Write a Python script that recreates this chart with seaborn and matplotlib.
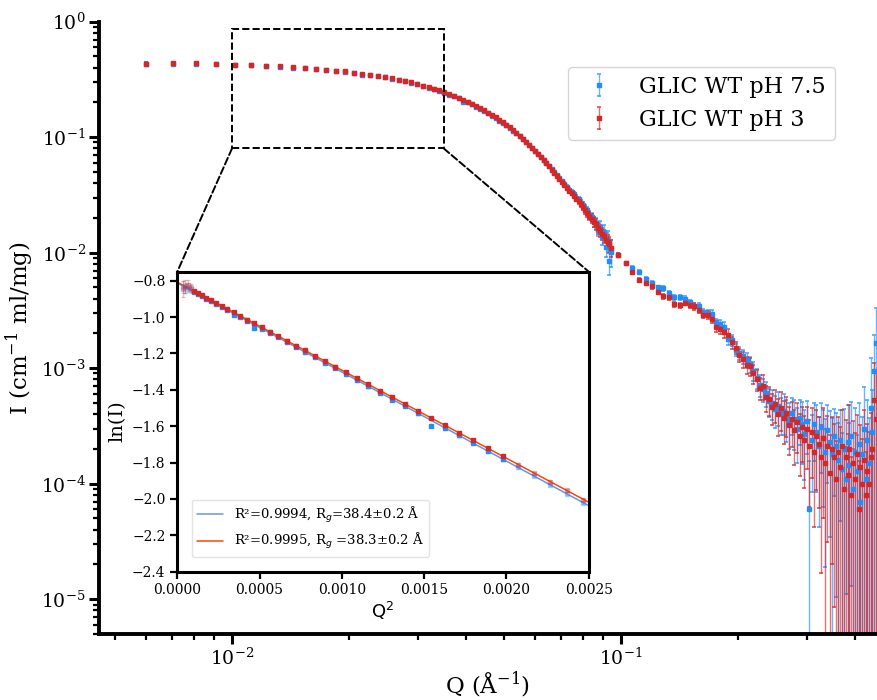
import matplotlib
matplotlib.use("Agg")
import matplotlib.pyplot as plt
import numpy as np
import pandas as pd
import seaborn as sns
from matplotlib.patches import ConnectionPatch, Rectangle

sns.set_style("ticks")
plt.rcParams["font.family"] = ["DejaVu Serif"]
plt.rcParams["mathtext.fontset"] = "dejavusans"
plt.rcParams.update({"axes.edgecolor": "black", "xtick.color": "black", "ytick.color": "black",
                     "text.color": "black", "axes.labelcolor": "black"})

# --- données --------------------------------------------------------------
LABELS = ["GLIC WT pH 7.5", "GLIC WT pH 3"]
COLORS = ["#1f8fff", "#d62728"]
FIT_COLORS = ["cornflowerblue", "orangered"]
FIT_LABELS = ["R²=0.9994, R$_g$=38.4±0.2 Å", "R²=0.9995, R$_g$ =38.3±0.2 Å"]
FIT_INTERCEPT = [-0.812, -0.808]
FIT_SLOPE = [-490.0, -484.0]
FIT_QMIN, FIT_QMAX = 0.0100, 0.0450
ZOOM_BOX = (0.0100, 0.0350, 0.080, 0.860)  # Q min, Q max, I min, I max

# bas Q (détecteur 1)
q_low = [0.00600, 0.00704, 0.00808, 0.00912, 0.01016, 0.01120, 0.01224, 0.01328, 0.01432, 0.01536,
         0.01640, 0.01744, 0.01848, 0.01952, 0.02056, 0.02160, 0.02264, 0.02368, 0.02472, 0.02576,
         0.02680, 0.02784, 0.02888, 0.02992, 0.03096, 0.03200, 0.03304, 0.03408, 0.03512, 0.03616,
         0.03720, 0.03824, 0.03928, 0.04032, 0.04136, 0.04240, 0.04344, 0.04448, 0.04552, 0.04656,
         0.04760, 0.04864, 0.04968, 0.05072, 0.05176, 0.05280, 0.05384, 0.05488, 0.05592, 0.05696,
         0.05800, 0.05904, 0.06008, 0.06112, 0.06216, 0.06320, 0.06424, 0.06528, 0.06632, 0.06736,
         0.06840, 0.06944, 0.07048, 0.07152, 0.07256, 0.07360, 0.07464, 0.07568, 0.07672, 0.07776,
         0.07880, 0.07984, 0.08088, 0.08192, 0.08296, 0.08400, 0.08504, 0.08608, 0.08712, 0.08816,
         0.08920, 0.09024, 0.09128, 0.09232, 0.09336, 0.09440]
i_low_ph75 = [0.4339, 0.4317, 0.4339, 0.4296, 0.4219, 0.4177, 0.4127, 0.4074, 0.4013, 0.3954,
              0.3891, 0.3825, 0.3716, 0.3682, 0.3610, 0.3471, 0.3454, 0.3372, 0.3292, 0.3208,
              0.3122, 0.3036, 0.2949, 0.2862, 0.2775, 0.2687, 0.2600, 0.2513, 0.2427, 0.2338,
              0.2254, 0.2168, 0.2023, 0.2001, 0.1920, 0.1840, 0.1761, 0.1683, 0.1609, 0.1535,
              0.1463, 0.1393, 0.1325, 0.1265, 0.1205, 0.1140, 0.1080, 0.1020, 0.0965, 0.0910,
              0.0858, 0.0810, 0.0762, 0.0718, 0.0675, 0.0635, 0.0597, 0.0560, 0.0527, 0.0495,
              0.0468, 0.0442, 0.0418, 0.0395, 0.0372, 0.0352, 0.0338, 0.0322, 0.0300, 0.0290,
              0.0270, 0.0258, 0.0240, 0.0232, 0.0212, 0.0204, 0.0186, 0.0180, 0.0158, 0.0166,
              0.0138, 0.0150, 0.0112, 0.0128, 0.0085, 0.0102]
i_low_ph3 = [0.4296, 0.4360, 0.4382, 0.4317, 0.4240, 0.4194, 0.4148, 0.4094, 0.4037, 0.3977,
             0.3914, 0.3848, 0.3779, 0.3708, 0.3631, 0.3555, 0.3478, 0.3399, 0.3315, 0.3234,
             0.3147, 0.3064, 0.2976, 0.2891, 0.2803, 0.2714, 0.2629, 0.2541, 0.2453, 0.2367,
             0.2281, 0.2196, 0.2112, 0.2029, 0.1947, 0.1867, 0.1789, 0.1710, 0.1635, 0.1561,
             0.1488, 0.1419, 0.1349, 0.1280, 0.1215, 0.1150, 0.1088, 0.1028, 0.0970, 0.0915,
             0.0862, 0.0813, 0.0764, 0.0719, 0.0676, 0.0634, 0.0595, 0.0558, 0.0524, 0.0492,
             0.0462, 0.0434, 0.0410, 0.0386, 0.0365, 0.0345, 0.0327, 0.0312, 0.0292, 0.0280,
             0.0262, 0.0250, 0.0234, 0.0222, 0.0208, 0.0197, 0.0185, 0.0176, 0.0164, 0.0156,
             0.0146, 0.0139, 0.0130, 0.0125, 0.0118, 0.0110]
# erreurs relatives
err_low_ph75 = [0.035, 0.030, 0.025, 0.020, 0.006, 0.006, 0.006, 0.006, 0.006, 0.006,
                0.006, 0.006, 0.006, 0.006, 0.006, 0.006, 0.006, 0.006, 0.006, 0.006,
                0.006, 0.006, 0.006, 0.006, 0.006, 0.006, 0.006, 0.006, 0.006, 0.006,
                0.006, 0.007, 0.007, 0.007, 0.007, 0.007, 0.007, 0.007, 0.007, 0.007,
                0.007, 0.007, 0.007, 0.009, 0.009, 0.010, 0.010, 0.011, 0.011, 0.012,
                0.012, 0.013, 0.014, 0.015, 0.016, 0.017, 0.018, 0.019, 0.020, 0.022,
                0.024, 0.026, 0.028, 0.030, 0.033, 0.036, 0.040, 0.044, 0.048, 0.052,
                0.057, 0.062, 0.068, 0.075, 0.082, 0.090, 0.100, 0.110, 0.120, 0.130,
                0.150, 0.160, 0.180, 0.200, 0.240, 0.260]
err_low_ph3 = [0.045, 0.035, 0.030, 0.020, 0.006, 0.006, 0.006, 0.006, 0.006, 0.006,
               0.006, 0.006, 0.006, 0.006, 0.006, 0.006, 0.006, 0.006, 0.006, 0.006,
               0.006, 0.006, 0.006, 0.006, 0.006, 0.006, 0.006, 0.006, 0.006, 0.006,
               0.006, 0.007, 0.007, 0.007, 0.007, 0.007, 0.007, 0.007, 0.007, 0.007,
               0.007, 0.007, 0.007, 0.009, 0.009, 0.010, 0.010, 0.011, 0.011, 0.012,
               0.012, 0.013, 0.014, 0.015, 0.016, 0.017, 0.018, 0.019, 0.020, 0.022,
               0.024, 0.026, 0.028, 0.030, 0.033, 0.036, 0.040, 0.044, 0.048, 0.052,
               0.057, 0.062, 0.068, 0.075, 0.082, 0.090, 0.100, 0.105, 0.110, 0.115,
               0.120, 0.125, 0.130, 0.140, 0.150, 0.160]

# haut Q (détecteur 2)
q_high = [0.0984, 0.1027, 0.1070, 0.1113, 0.1156, 0.1199, 0.1242, 0.1285, 0.1328, 0.1371,
          0.1414, 0.1457, 0.1500, 0.1543, 0.1586, 0.1629, 0.1672, 0.1715, 0.1758, 0.1801,
          0.1844, 0.1887, 0.1930, 0.1973, 0.2016, 0.2059, 0.2102, 0.2145, 0.2188, 0.2231,
          0.2274, 0.2317, 0.2360, 0.2403, 0.2446, 0.2489, 0.2532, 0.2575, 0.2618, 0.2661,
          0.2704, 0.2747, 0.2790, 0.2833, 0.2876, 0.2919, 0.2962, 0.3005, 0.3048, 0.3091,
          0.3134, 0.3177, 0.3220, 0.3263, 0.3306, 0.3349, 0.3392, 0.3435, 0.3478, 0.3521,
          0.3564, 0.3607, 0.3650, 0.3693, 0.3736, 0.3779, 0.3822, 0.3865, 0.3908, 0.3951,
          0.3994, 0.4037, 0.4080, 0.4123, 0.4166, 0.4209, 0.4252, 0.4295, 0.4338, 0.4381,
          0.4424, 0.4467, 0.4510]
i_high_ph75 = [0.0096, 0.0081, 0.0074, 0.0068, 0.0059, 0.0055, 0.0050, 0.0049, 0.00447, 0.00413,
               0.00410, 0.00397, 0.00371, 0.00349, 0.00343, 0.00304, 0.00300, 0.00296, 0.00249, 0.00240,
               0.00227, 0.00178, 0.00176, 0.00145, 0.00135, 0.00127, 0.00117, 0.00108, 0.00095, 0.00082,
               0.00072, 0.00066, 0.00061, 0.00052, 0.00050, 0.00044, 0.00047, 0.00041, 0.00043, 0.00038,
               0.00035, 0.00041, 0.00036, 0.00030, 0.00037, 0.00033, 0.00027, 0.00035, 0.00006, 0.00024,
               0.00033, 0.00028, 0.00021, 0.00031, 0.00025, 0.00019, 0.00029, 0.00023, 0.00018, 0.00026,
               0.00021, 0.00016, 0.00024, 0.000135, 0.00020, 0.00011, 0.00023, 0.000145, 0.00026, 0.00009,
               0.00019, 0.00013, 0.00022, 0.00007, 0.00018, 0.00030, 0.00011, 0.00024, 0.00015, 0.00045,
               0.00028, 0.00095, 0.00165]
i_high_ph3 = [0.0096, 0.0081, 0.0068, 0.0058, 0.0055, 0.0051, 0.0046, 0.0042, 0.0041, 0.0036,
              0.0035, 0.0037, 0.00354, 0.00343, 0.00321, 0.00290, 0.00289, 0.00267, 0.00227, 0.00218,
              0.00204, 0.00195, 0.00167, 0.00150, 0.00131, 0.00119, 0.00107, 0.00104, 0.00090, 0.00080,
              0.00068, 0.00070, 0.00056, 0.00054, 0.00046, 0.00049, 0.00040, 0.00045, 0.00037, 0.00041,
              0.00032, 0.00036, 0.00029, 0.00034, 0.00026, 0.00031, 0.00024, 0.00030, 0.00021, 0.00028,
              0.00019, 0.00026, 0.00022, 0.00017, 0.00025, 0.00015, 0.00021, 0.000125, 0.00020, 0.00017,
              0.00011, 0.00019, 0.00014, 0.00021, 0.00009, 0.00017, 0.00012, 0.00020, 0.00008, 0.00015,
              0.00011, 0.00018, 0.00006, 0.00014, 0.00010, 0.00016, 0.00008, 0.00013, 0.00010, 0.00017,
              0.00020, 0.00053, 0.00036]
err_high_ph75 = [0.03, 0.03, 0.035, 0.035, 0.04, 0.04, 0.04, 0.045, 0.045, 0.05,
                 0.05, 0.055, 0.055, 0.06, 0.065, 0.07, 0.07, 0.08, 0.08, 0.09,
                 0.10, 0.10, 0.11, 0.12, 0.13, 0.14, 0.15, 0.16, 0.18, 0.20,
                 0.21, 0.23, 0.25, 0.27, 0.29, 0.31, 0.33, 0.36, 0.38, 0.40,
                 0.43, 0.36, 0.46, 0.50, 0.42, 0.55, 0.60, 0.48, 1.60, 0.65,
                 0.52, 0.70, 0.80, 0.60, 0.75, 0.90, 0.65, 0.85, 1.05, 0.70,
                 0.95, 1.10, 0.80, 1.05, 1.20, 0.90, 1.10, 1.30, 0.95, 1.20,
                 1.40, 1.05, 1.25, 1.50, 1.10, 1.30, 1.60, 1.20, 1.45, 1.70,
                 1.30, 1.05, 1.00]
err_high_ph3 = [0.03, 0.03, 0.035, 0.035, 0.04, 0.04, 0.045, 0.045, 0.05, 0.05,
                0.055, 0.055, 0.06, 0.065, 0.065, 0.07, 0.075, 0.08, 0.09, 0.09,
                0.10, 0.11, 0.12, 0.12, 0.13, 0.15, 0.16, 0.17, 0.19, 0.21,
                0.22, 0.24, 0.26, 0.28, 0.30, 0.32, 0.35, 0.37, 0.40, 0.38,
                0.45, 0.42, 0.50, 0.46, 0.55, 0.50, 0.62, 0.55, 0.70, 0.60,
                0.78, 0.66, 0.72, 0.90, 0.80, 1.00, 0.85, 1.10, 0.90, 0.95,
                1.15, 1.00, 1.20, 1.05, 1.30, 1.10, 1.25, 1.40, 1.15, 1.35,
                1.50, 1.20, 1.60, 1.30, 1.45, 1.70, 1.35, 1.55, 1.80, 1.40,
                1.25, 1.10, 1.50]


def _table(q_lo, i_lo, e_lo, q_hi, i_hi, e_hi) -> pd.DataFrame:
    df = pd.DataFrame({"q": q_lo + q_hi, "i": i_lo + i_hi, "rel": e_lo + e_hi,
                       "low": [True] * len(q_lo) + [False] * len(q_hi)})
    df["err"] = df["i"] * df["rel"]
    df["q2"] = df["q"] ** 2
    df["ln_i"] = np.log(df["i"])
    return df


series = [
    _table(q_low, i_low_ph75, err_low_ph75, q_high, i_high_ph75, err_high_ph75),
    _table(q_low, i_low_ph3, err_low_ph3, q_high, i_high_ph3, err_high_ph3),
]

# --- figure principale ----------------------------------------------------
fig = plt.figure(figsize=(8.77, 7.0), dpi=100)
ax = fig.add_axes([0.1129, 0.0943, 0.8871, 0.8747])

for df, color, label in zip(series, COLORS, LABELS):
    eb = ax.errorbar(df["q"], df["i"], yerr=df["err"], fmt="s", markersize=2.7,
                     color=color, ecolor=color, elinewidth=1.0, capsize=1.5,
                     capthick=1.1, label=label)
    eb[2][0].set_alpha(0.65)
    for cap in eb[1]:
        cap.set_alpha(0.85)

ax.set_xscale("log")
ax.set_yscale("log")
ax.set_xlim(0.00455, 0.455)
ax.set_ylim(5e-6, 1.0)
ax.spines[["top", "right"]].set_visible(False)
for side in ("left", "bottom"):
    ax.spines[side].set_linewidth(2.8)
ax.tick_params(which="major", length=7, width=2.2, labelsize=13.5, direction="out", pad=2.5)
ax.tick_params(which="minor", length=4, width=1.6, direction="out")
ax.set_xlabel("Q (Å$^{\\mathdefault{-1}}$)", fontsize=16.5, labelpad=1)
ax.set_ylabel("I (cm$^{\\mathdefault{-1}}$ ml/mg)", fontsize=16.5)

leg = ax.legend(loc="upper right", bbox_to_anchor=(0.946, 0.926), borderaxespad=0,
                fontsize=16, frameon=True, fancybox=True, framealpha=0.8)
leg.get_frame().set_edgecolor("#cccccc")

# zone agrandie
q0, q1, i0, i1 = ZOOM_BOX
ax.add_patch(Rectangle((q0, i0), q1 - q0, i1 - i0, fill=False, ls="--", lw=1.4,
                       color="black", zorder=5))

# --- encart Guinier -------------------------------------------------------
axins = fig.add_axes([0.2022, 0.1833, 0.4691, 0.4286], zorder=10)
axins.set_facecolor("white")

for k, (df, color) in enumerate(zip(series, COLORS)):
    sub = df[df["low"] & (df["q2"] <= 0.0025)]
    in_fit = (sub["q"] >= FIT_QMIN) & (sub["q"] <= FIT_QMAX)
    for part, alpha in ((sub[in_fit], 1.0), (sub[~in_fit], 0.3)):
        axins.errorbar(part["q2"], part["ln_i"], yerr=part["rel"], fmt="s", markersize=2.4,
                       color=color, ecolor=color, elinewidth=0.9,
                       capsize=1.5, capthick=0.9, alpha=alpha)
    fit = pd.DataFrame({"q2": [0.0, 0.0025]})
    fit["ln_i"] = FIT_INTERCEPT[k] + FIT_SLOPE[k] * fit["q2"]
    sns.lineplot(data=fit, x="q2", y="ln_i", ax=axins, color=FIT_COLORS[k], lw=1.1,
                 label=FIT_LABELS[k])

axins.set_xlim(0, 0.0025)
axins.set_ylim(-2.4, -0.75)
axins.set_xticks([0.0, 0.0005, 0.0010, 0.0015, 0.0020, 0.0025])
axins.set_yticks([-2.4, -2.2, -2.0, -1.8, -1.6, -1.4, -1.2, -1.0, -0.8])
axins.xaxis.set_major_formatter(matplotlib.ticker.FormatStrFormatter("%.4f"))
axins.yaxis.set_major_formatter(matplotlib.ticker.FuncFormatter(lambda v, p: f"{v:.1f}".replace("-", "\u2212")))
for side in axins.spines.values():
    side.set_linewidth(2.2)
    side.set_visible(True)
axins.tick_params(length=5, width=1.6, labelsize=10, direction="out")
axins.set_xlabel("Q$^2$", fontsize=13, family="DejaVu Sans", labelpad=2)
axins.set_ylabel("ln(I)", fontsize=14)
axins.legend(loc="lower left", bbox_to_anchor=(0.035, 0.05), borderaxespad=0,
             fontsize=9.5, frameon=True, framealpha=0.8, edgecolor="#dddddd")

# traits de liaison
for xa, xb in ((q0, 0.0), (q1, 1.0)):
    con = ConnectionPatch(xyA=(xa, i0), coordsA=ax.transData, xyB=(xb, 1.0),
                          coordsB=axins.transAxes, ls="--", lw=1.4, color="black")
    fig.add_artist(con)

fig.savefig("out.png", dpi=100)
